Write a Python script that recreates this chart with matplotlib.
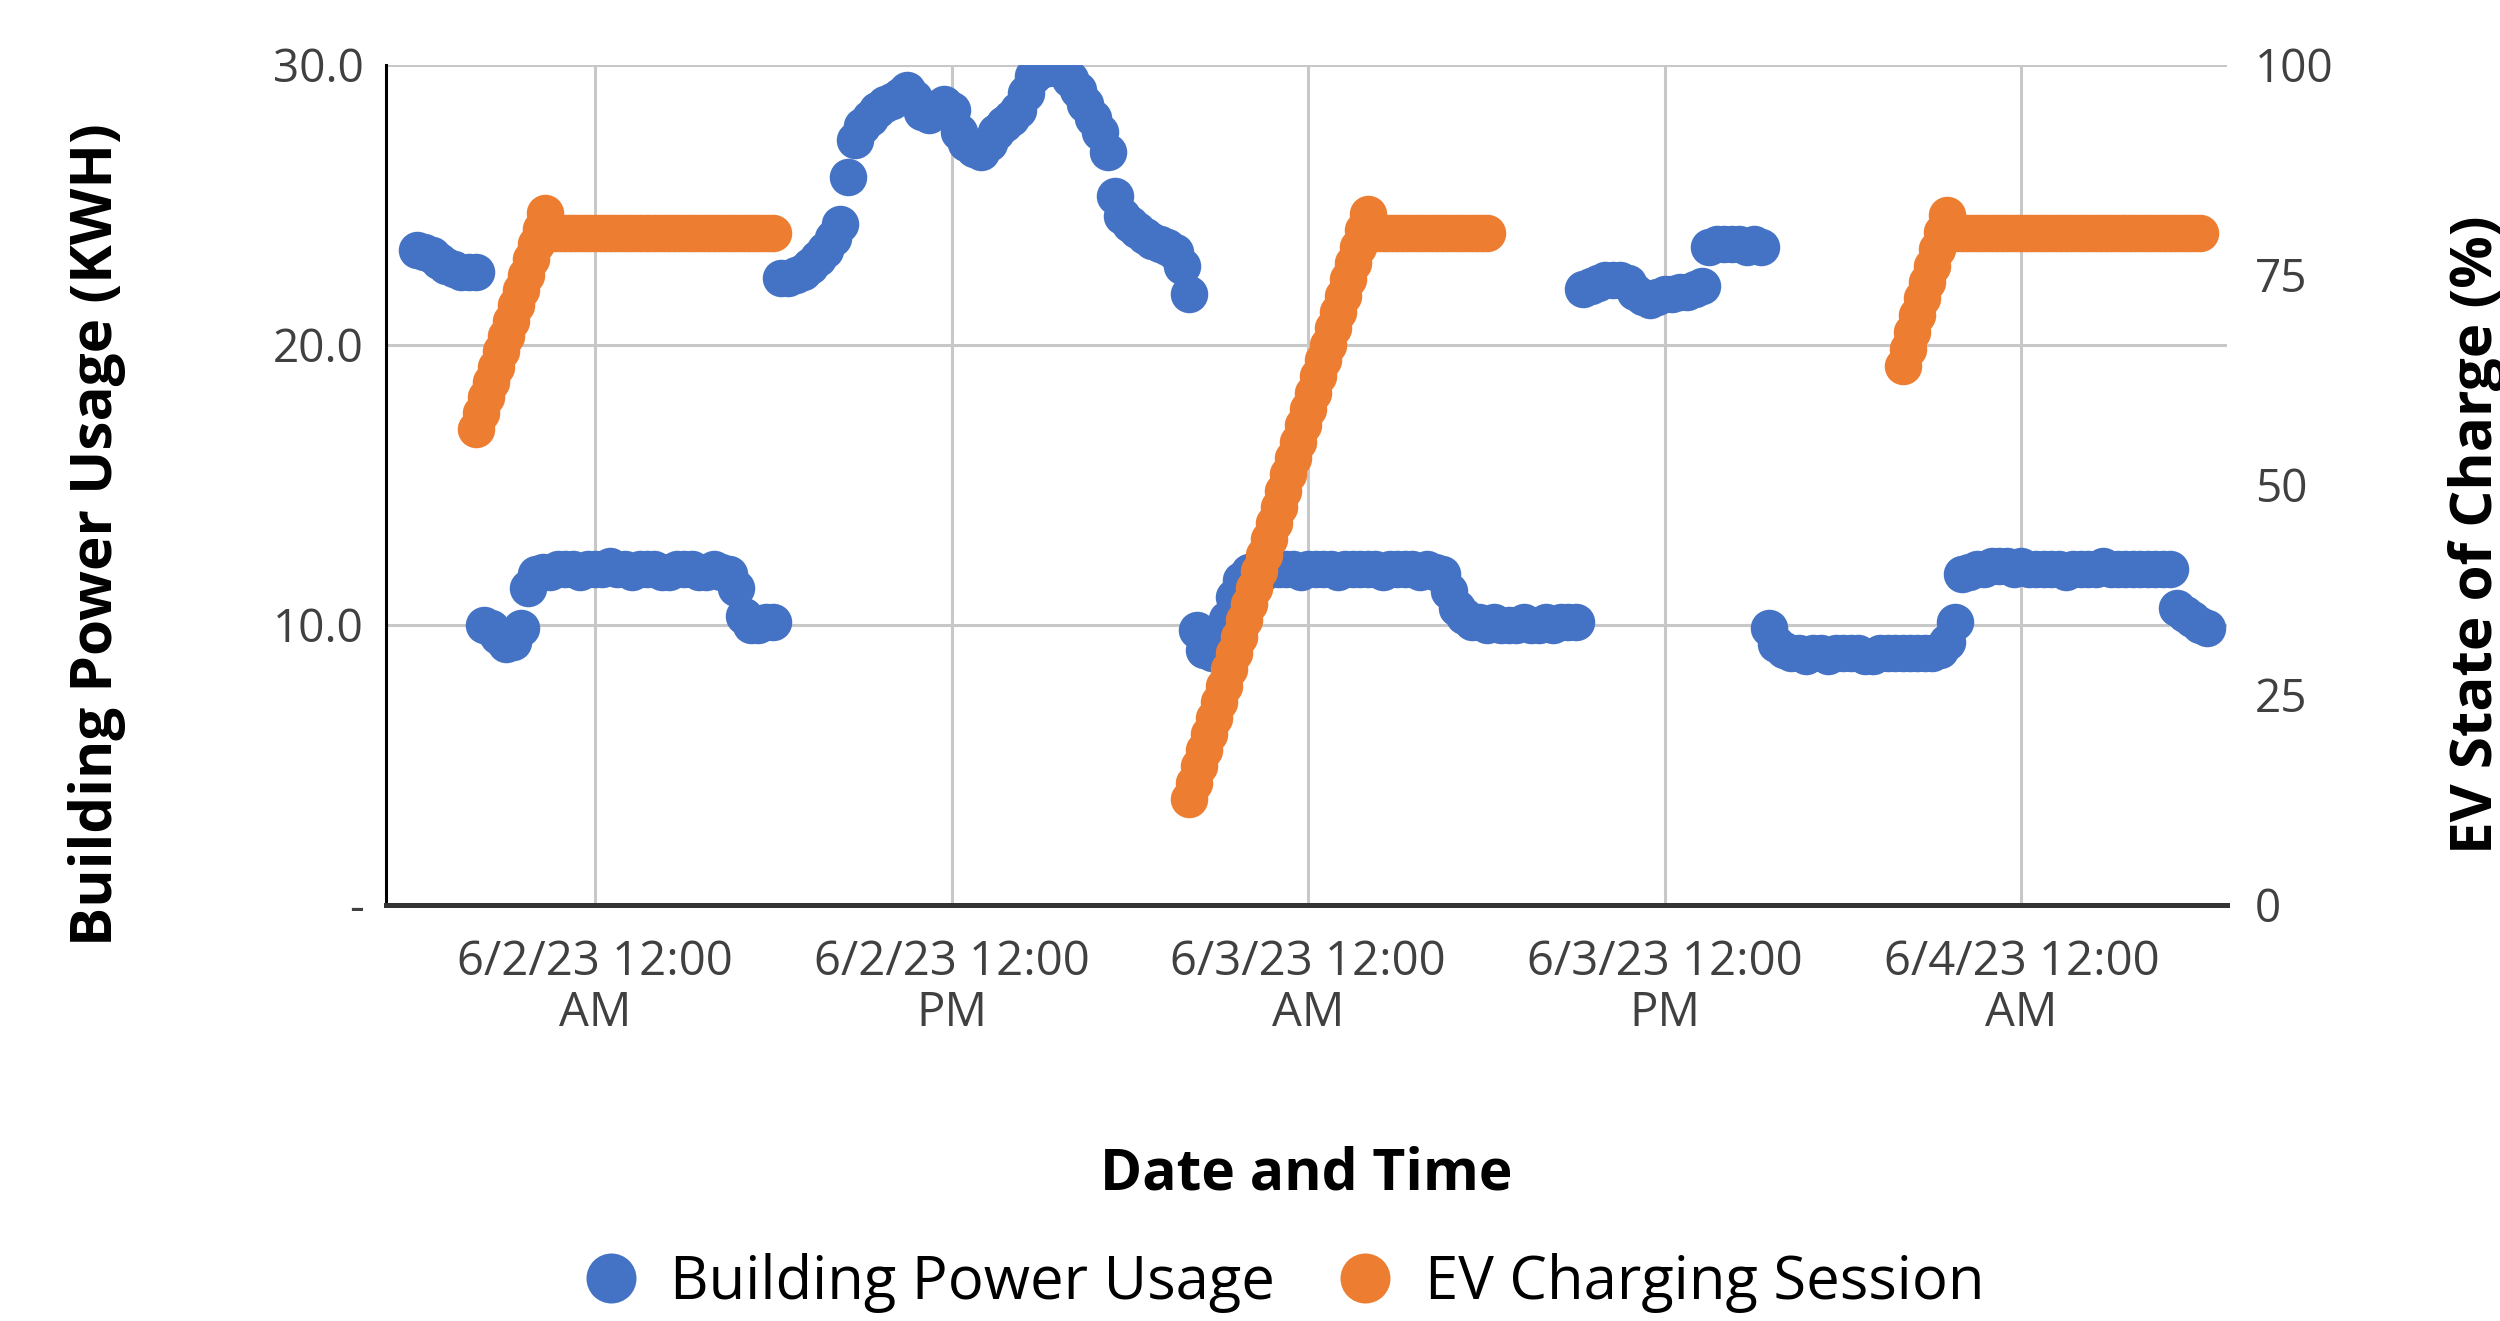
import matplotlib
matplotlib.use('Agg')
import matplotlib.pyplot as plt
import matplotlib.dates as mdates
from matplotlib.lines import Line2D
import pandas as pd

plt.rcParams['font.family'] = ['Open Sans', 'DejaVu Sans']

# building power usage (kWh), one reading every 15 min from 6/1/23 18:00
power_start = '2023-06-01 18:00'
power = [
    23.4, 23.3, 23.2, 23.0,
    22.8, 22.7, 22.6, 22.6,
    22.6, 10.0, 9.9, 9.6,
    9.3, 9.4, 9.9, 11.3,
    11.8, 11.9, 11.9, 12.0,
    12.0, 12.0, 11.9, 12.0,
    12.0, 12.0, 12.1, 12.0,
    12.0, 11.9, 12.0, 12.0,
    12.0, 11.9, 11.9, 12.0,
    12.0, 12.0, 11.9, 11.9,
    12.0, 11.9, 11.8, 11.3,
    10.3, 10.0, 10.0, 10.1,
    10.1, 22.4, 22.4, 22.5,
    22.6, 22.8, 23.1, 23.4,
    23.8, 24.3, 26.0, 27.3,
    27.8, 28.1, 28.4, 28.6,
    28.7, 28.9, 29.1, 28.8,
    28.3, 28.2, 28.4, 28.6,
    28.4, 27.6, 27.2, 27.0,
    26.9, 27.2, 27.6, 27.9,
    28.1, 28.4, 29.0, 29.6,
    29.8, 29.9, 29.9, 29.8,
    29.5, 29.1, 28.6, 28.1,
    27.6, 26.9, 25.3, 24.6,
    24.3, 24.1, 23.9, 23.7,
    23.6, 23.5, 23.3, 22.8,
    21.8, 9.8, 9.1, 9.0,
    9.4, 10.2, 11.0, 11.6,
    11.9, 12.0, 11.9, 12.0,
    12.0, 12.0, 12.0, 11.9,
    12.0, 12.0, 12.0, 12.0,
    11.9, 12.0, 12.0, 12.0,
    12.0, 12.0, 11.9, 12.0,
    12.0, 12.0, 12.0, 11.9,
    12.0, 11.9, 11.8, 11.2,
    10.6, 10.3, 10.1, 10.1,
    10.0, 10.1, 10.0, 10.0,
    10.0, 10.1, 10.0, 10.0,
    10.1, 10.0, 10.1, 10.1,
    10.1, 22.0, 22.1, 22.2,
    22.3, 22.3, 22.3, 22.2,
    21.9, 21.7, 21.6, 21.7,
    21.8, 21.8, 21.9, 21.9,
    22.0, 22.1, 23.5, 23.6,
    23.6, 23.6, 23.6, 23.5,
    23.6, 23.5, 9.9, 9.3,
    9.1, 9.0, 9.0, 8.9,
    9.0, 9.0, 8.9, 9.0,
    9.0, 9.0, 9.0, 8.9,
    8.9, 9.0, 9.0, 9.0,
    9.0, 9.0, 9.0, 9.0,
    9.0, 9.1, 9.4, 10.1,
    11.8, 11.9, 12.0, 12.0,
    12.1, 12.1, 12.1, 12.0,
    12.1, 12.0, 12.0, 12.0,
    12.0, 12.0, 11.9, 12.0,
    12.0, 12.0, 12.0, 12.1,
    12.0, 12.0, 12.0, 12.0,
    12.0, 12.0, 12.0, 12.0,
    12.0, 10.6, 10.4, 10.2,
    10.0, 9.9,
]

# EV state of charge (%) for the three charging sessions, 10 min steps
ev1_start = '2023-06-01 20:00'
ev1 = [56.7, 58.5, 60.4, 62.2, 64.0, 65.9, 67.7, 69.5, 71.4, 73.2,
       75.0, 76.9, 78.7, 80.5, 82.3,
       80.0, 80.0, 80.0, 80.0, 80.0, 80.0, 80.0, 80.0, 80.0, 80.0,
       80.0, 80.0, 80.0, 80.0, 80.0, 80.0, 80.0, 80.0, 80.0, 80.0,
       80.0, 80.0, 80.0, 80.0, 80.0, 80.0, 80.0, 80.0, 80.0, 80.0,
       80.0, 80.0, 80.0, 80.0, 80.0, 80.0, 80.0, 80.0, 80.0, 80.0,
       80.0, 80.0, 80.0, 80.0, 80.0, 80.0]
ev2_start = '2023-06-02 20:00'
ev2 = [12.6, 14.5, 16.5, 18.4, 20.3, 22.3, 24.2, 26.1, 28.1, 30.0,
       31.9, 33.9, 35.8, 37.7, 39.7, 41.6, 43.5, 45.5, 47.4, 49.3,
       51.3, 53.2, 55.1, 57.1, 59.0, 60.9, 62.9, 64.8, 66.7, 68.7,
       70.6, 72.5, 74.5, 76.4, 78.3, 80.3, 82.2,
       80.0, 80.0, 80.0, 80.0, 80.0, 80.0, 80.0, 80.0, 80.0, 80.0,
       80.0, 80.0, 80.0, 80.0, 80.0, 80.0, 80.0, 80.0, 80.0, 80.0,
       80.0, 80.0, 80.0, 80.0]
ev3_start = '2023-06-03 20:00'
ev3 = [64.2, 66.2, 68.2, 70.2, 72.2, 74.1, 76.1, 78.1, 80.1, 82.1,
       80.0, 80.0, 80.0, 80.0, 80.0, 80.0, 80.0, 80.0, 80.0, 80.0,
       80.0, 80.0, 80.0, 80.0, 80.0, 80.0, 80.0, 80.0, 80.0, 80.0,
       80.0, 80.0, 80.0, 80.0, 80.0, 80.0, 80.0, 80.0, 80.0, 80.0,
       80.0, 80.0, 80.0, 80.0, 80.0, 80.0, 80.0, 80.0, 80.0, 80.0,
       80.0, 80.0, 80.0, 80.0, 80.0, 80.0, 80.0, 80.0, 80.0, 80.0,
       80.0]

blue = '#4472C4'
orange = '#ED7D31'
grid_c = '#C8C8C8'
tick_c = '#404040'

fig = plt.figure(figsize=(25, 13.21), dpi=100)
ax = fig.add_axes([0.1544, 0.315, 0.7364, 0.636])
ax2 = ax.twinx()

t_power = pd.date_range(power_start, periods=len(power), freq='15min')
ax.plot(t_power, power, 'o', color=blue, ms=27, mew=0, zorder=3)

for start, vals in [(ev1_start, ev1), (ev2_start, ev2), (ev3_start, ev3)]:
    t = pd.date_range(start, periods=len(vals), freq='10min')
    ax2.plot(t, vals, 'o', color=orange, ms=27, mew=0, zorder=3)

ax.set_xlim(pd.Timestamp('2023-06-01 16:58'), pd.Timestamp('2023-06-04 06:55'))
ax.set_ylim(0, 30)
ax2.set_ylim(0, 100)

ax.set_yticks([0, 10, 20, 30])
ax.yaxis.set_major_formatter(plt.FuncFormatter(lambda v, p: '-' if v == 0 else f'{v:.1f}'))
ax2.set_yticks([0, 25, 50, 75, 100])

ax.xaxis.set_major_locator(mdates.HourLocator(byhour=[0, 12]))


def fmt_date(x, pos):
    d = mdates.num2date(x)
    h = d.hour % 12 or 12
    return f'{d.month}/{d.day}/{d:%y} {h}:{d:%M}\n{d:%p}'


ax.xaxis.set_major_formatter(plt.FuncFormatter(fmt_date))

ax.grid(True, color=grid_c, lw=2.2)
ax.set_axisbelow(True)
for a in (ax, ax2):
    for s in ['top', 'right', 'left', 'bottom']:
        a.spines[s].set_visible(False)
ax.spines['left'].set_visible(True)
ax.spines['left'].set_color('black')
ax.spines['left'].set_linewidth(2.2)
ax.spines['bottom'].set_visible(True)
ax.spines['bottom'].set_color('#333333')
ax.spines['bottom'].set_linewidth(3.6)

ax.tick_params(axis='y', length=0, pad=16, labelsize=33, labelcolor=tick_c)
ax.tick_params(axis='x', length=0, pad=24, labelsize=34, labelcolor=tick_c)
ax2.tick_params(axis='y', length=0, pad=20, labelsize=33, labelcolor=tick_c)
for lab in ax.get_xticklabels():
    lab.set_linespacing(1.1)

fig.text(0.039, 0.595, 'Building Power Usage (KWH)', rotation=90, ha='center', va='center',
         fontsize=42, fontweight='bold')
fig.text(0.991, 0.595, 'EV State of Charge (%)', rotation=90, ha='center', va='center',
         fontsize=42, fontweight='bold')
fig.text(0.5224, 0.111, 'Date and Time', ha='center', va='center', fontsize=41, fontweight='bold')

handles = [Line2D([], [], ls='none', marker='o', ms=36, color=blue, mew=0),
           Line2D([], [], ls='none', marker='o', ms=36, color=orange, mew=0)]
fig.legend(handles, ['Building Power Usage', 'EV Charging Session'], loc='center',
           bbox_to_anchor=(0.513, 0.029), ncol=2, frameon=False, fontsize=43,
           handlelength=1.0, handletextpad=0.5, columnspacing=1.0)

fig.savefig('out.png', dpi=100)
